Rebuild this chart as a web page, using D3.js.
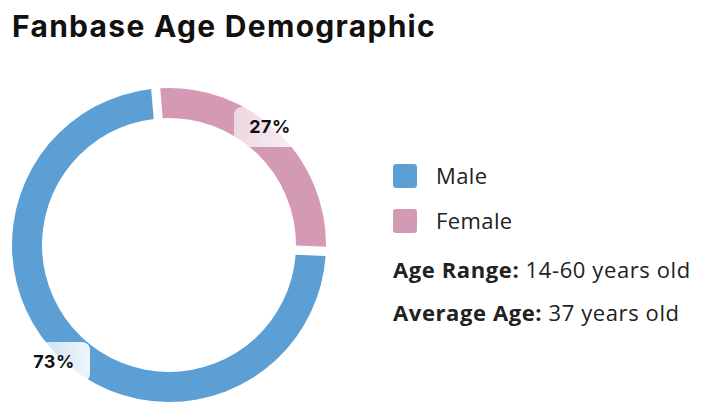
<!DOCTYPE html>
<html><head><meta charset="utf-8">
<script src="https://cdn.jsdelivr.net/npm/d3@7"></script>
<style>body{margin:0;background:#fff}</style>
</head><body>
<svg id="c" width="717" height="420"></svg>
<script>
const categories = ["Female", "Male"];
const values = [27, 73];
const colors = ["#d59ab3", "#5b9fd4"];
const legendLabels = ["Male", "Female"];
const infoLines = [["Age Range:", " 14-60 years old"], ["Average Age:", " 37 years old"]];

const svg = d3.select("#c");
svg.append("text").attr("x", 12).attr("y", 37).text("Fanbase Age Demographic")
  .attr("font-family", "Inter, 'Open Sans', sans-serif").attr("font-weight", 700)
  .attr("font-size", 30).attr("letter-spacing", 1.3).attr("fill", "#111");

const defs = svg.append("defs");
const grad = defs.append("linearGradient").attr("id", "lg");
grad.append("stop").attr("offset", "0%").attr("stop-color", "#fff").attr("stop-opacity", 0.6);
grad.append("stop").attr("offset", "100%").attr("stop-color", "#fff").attr("stop-opacity", 0.9);

const cx = 169, cy = 245, R = 157, r = 127;
const pie = d3.pie().sort(null).value(d => d).startAngle(-0.085).endAngle(2 * Math.PI - 0.085)(values);
const arc = d3.arc().innerRadius(r).outerRadius(R).padAngle(0.045);
const g = svg.append("g").attr("transform", `translate(${cx},${cy})`);
g.selectAll("path").data(pie).join("path").attr("d", arc).attr("fill", (d, i) => colors[i]);

const labelPos = [[270, 127], [54, 362]];
pie.forEach((d, i) => {
  const [x, y] = labelPos[i];
  svg.append("rect").attr("x", x - 36).attr("y", y - 20).attr("width", 72).attr("height", 40)
    .attr("rx", 8).attr("fill", "url(#lg)");
  svg.append("text").attr("x", x).attr("y", y + 6).attr("text-anchor", "middle")
    .attr("font-family", "Inter, sans-serif").attr("font-weight", 700).attr("font-size", 18)
    .attr("letter-spacing", 0.5).attr("fill", "#111").text(values[i] + "%");
});

const legColor = {Male: colors[1], Female: colors[0]};
legendLabels.forEach((l, i) => {
  const y = 176 + i * 45;
  svg.append("rect").attr("x", 393).attr("y", y - 12).attr("width", 24).attr("height", 24)
    .attr("rx", 3).attr("fill", legColor[l]);
  svg.append("text").attr("x", 436).attr("y", y + 8).text(l)
    .attr("font-family", "'Open Sans', sans-serif").attr("font-size", 22).attr("letter-spacing", 0.4).attr("fill", "#222");
});
infoLines.forEach((p, i) => {
  const t = svg.append("text").attr("x", 393).attr("y", 278 + i * 43)
    .attr("font-family", "'Open Sans', sans-serif").attr("font-size", 22).attr("letter-spacing", 0.6).attr("fill", "#222");
  t.append("tspan").attr("font-weight", 700).text(p[0]);
  t.append("tspan").text(p[1]);
});
</script>
</body></html>
